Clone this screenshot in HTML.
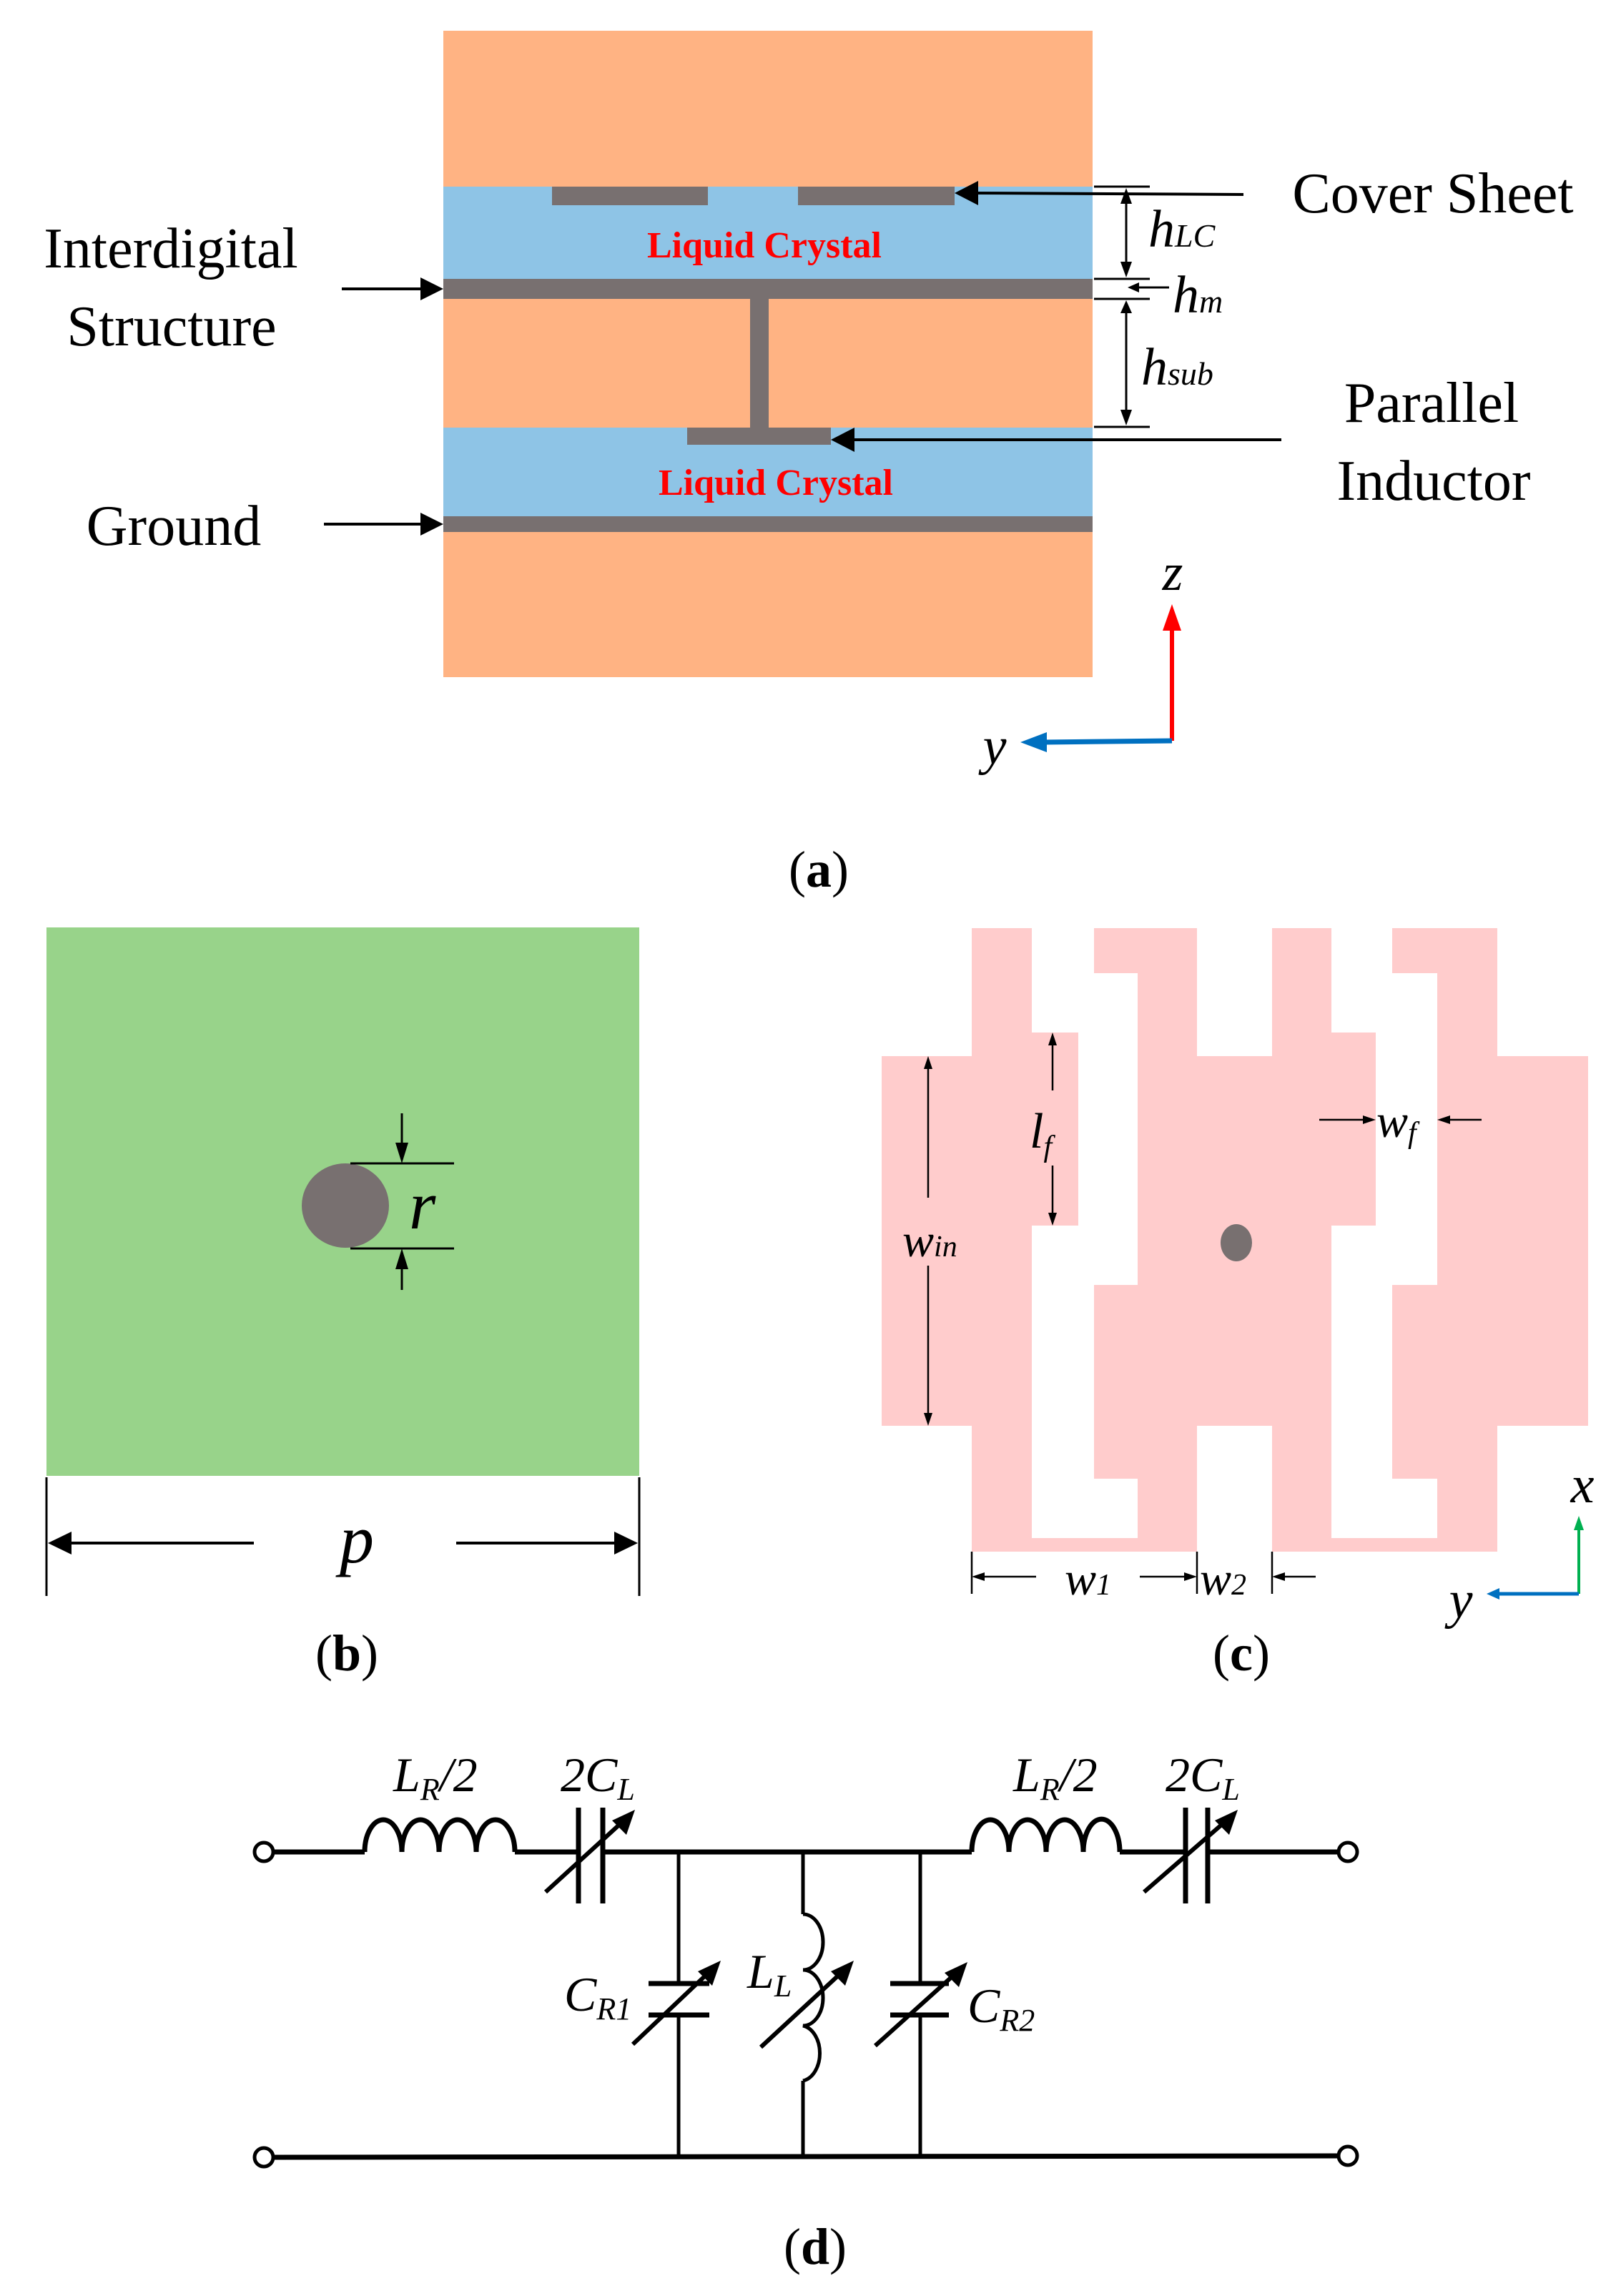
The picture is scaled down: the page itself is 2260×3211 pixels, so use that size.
<!DOCTYPE html>
<html><head><meta charset="utf-8"><style>html,body{margin:0;padding:0;background:#fff}svg{display:block}svg text{font-family:"Liberation Serif","Times New Roman",serif}</style></head>
<body>
<svg xmlns="http://www.w3.org/2000/svg" width="2260" height="3211" viewBox="0 0 2260 3211" style="font-family:'Liberation Serif',serif">
<!-- (a) -->
<rect x="620" y="43" width="908" height="904" fill="#ffb383"/>
<rect x="620" y="261" width="908" height="129" fill="#8ec4e6"/>
<rect x="620" y="598" width="908" height="124" fill="#8ec4e6"/>
<rect x="620" y="390" width="908" height="28" fill="#787070"/>
<rect x="620" y="722" width="908" height="22" fill="#787070"/>
<rect x="772" y="261" width="218" height="26" fill="#787070"/>
<rect x="1116" y="261" width="219" height="26" fill="#787070"/>
<rect x="1049" y="418" width="26" height="182" fill="#787070"/>
<rect x="961" y="598" width="201" height="24" fill="#787070"/>
<text x="1069" y="360" font-size="52" font-weight="bold" fill="#ff0000" text-anchor="middle">Liquid Crystal</text>
<text x="1085" y="692" font-size="52" font-weight="bold" fill="#ff0000" text-anchor="middle">Liquid Crystal</text>
<g font-size="80" fill="#000">
<text x="2004" y="297" text-anchor="middle">Cover Sheet</text>
<text x="239" y="374" text-anchor="middle">Interdigital</text>
<text x="240" y="483" text-anchor="middle">Structure</text>
<text x="243" y="762" text-anchor="middle">Ground</text>
<text x="2002" y="590" text-anchor="middle">Parallel</text>
<text x="2005" y="699" text-anchor="middle">Inductor</text>
</g>
<g stroke="#000" stroke-width="4" fill="none">
<line x1="478" y1="404" x2="590" y2="404"/>
<line x1="453" y1="733" x2="590" y2="733"/>
<line x1="1739" y1="272" x2="1365" y2="270"/>
<line x1="1792" y1="615" x2="1192" y2="615"/>
<line x1="1530" y1="261" x2="1608" y2="261" stroke-width="3"/>
<line x1="1530" y1="390" x2="1608" y2="390" stroke-width="3"/>
<line x1="1530" y1="418" x2="1608" y2="418" stroke-width="3"/>
<line x1="1530" y1="597" x2="1608" y2="597" stroke-width="3"/>
<line x1="1575" y1="270" x2="1575" y2="380" stroke-width="3"/>
<line x1="1575" y1="428" x2="1575" y2="588" stroke-width="3"/>
<line x1="1635" y1="402" x2="1585" y2="402" stroke-width="3"/>
</g>
<g fill="#000">
<polygon points="620,404 588,388 588,420"/>
<polygon points="620,733 588,717 588,749"/>
<polygon points="1335,270 1368,253 1368,287"/>
<polygon points="1162,615 1195,598 1195,632"/>
<polygon points="1575,263 1567,285 1583,285"/>
<polygon points="1575,388 1567,366 1583,366"/>
<polygon points="1575,420 1567,438 1583,438"/>
<polygon points="1575,595 1567,573 1583,573"/>
<polygon points="1577,402 1593,395 1593,409"/>
</g>
<g font-style="italic" font-size="74" fill="#000">
<text x="1606" y="345">h<tspan font-size="46">LC</tspan></text>
<text x="1640" y="437">h<tspan font-size="46">m</tspan></text>
<text x="1596" y="538">h<tspan font-size="46">sub</tspan></text>
<text x="1640" y="825" text-anchor="middle">z</text>
<text x="1391" y="1068" text-anchor="middle">y</text>
</g>
<line x1="1639" y1="1036" x2="1639" y2="880" stroke="#ff0000" stroke-width="6"/>
<polygon points="1639,845 1626,882 1652,882" fill="#ff0000"/>
<line x1="1639" y1="1036" x2="1460" y2="1038" stroke="#0070c0" stroke-width="7"/>
<polygon points="1427,1038 1464,1024 1464,1052" fill="#0070c0"/>
<text x="1145" y="1240" font-size="72" text-anchor="middle">(<tspan font-weight="bold">a</tspan>)</text>

<!-- (b) -->
<rect x="65" y="1297" width="829" height="767" fill="#98d38a"/>
<ellipse cx="483" cy="1686" rx="61" ry="59" fill="#787070"/>
<g stroke="#000" stroke-width="3" fill="none">
<line x1="490" y1="1627" x2="635" y2="1627"/>
<line x1="490" y1="1746" x2="635" y2="1746"/>
<line x1="562" y1="1557" x2="562" y2="1600"/>
<line x1="562" y1="1772" x2="562" y2="1804"/>
<line x1="65" y1="2066" x2="65" y2="2232"/>
<line x1="894" y1="2066" x2="894" y2="2232"/>
<line x1="90" y1="2158" x2="355" y2="2158" stroke-width="4"/>
<line x1="638" y1="2158" x2="870" y2="2158" stroke-width="4"/>
</g>
<g fill="#000">
<polygon points="562,1627 553,1598 571,1598"/>
<polygon points="562,1746 553,1775 571,1775"/>
<polygon points="67,2158 100,2142 100,2174"/>
<polygon points="892,2158 859,2142 859,2174"/>
</g>
<g font-style="italic" fill="#000">
<text x="572" y="1718" font-size="96">r</text>
<text x="475" y="2185" font-size="96">p</text>
</g>
<text x="485" y="2336" font-size="72" text-anchor="middle">(<tspan font-weight="bold">b</tspan>)</text>

<!-- (c) -->
<g fill="#ffcccc">
<rect x="1359" y="1298" width="84" height="872"/>
<rect x="1233" y="1477" width="127" height="517"/>
<rect x="1442" y="1444" width="66" height="270"/>
<rect x="1359" y="2151" width="315" height="19"/>
<rect x="1591" y="1298" width="83" height="872"/>
<rect x="1530" y="1298" width="144" height="63"/>
<rect x="1779" y="1298" width="83" height="872"/>
<rect x="1591" y="1477" width="271" height="517"/>
<rect x="1861" y="1444" width="63" height="270"/>
<rect x="1530" y="1797" width="62" height="271"/>
<rect x="1779" y="2151" width="315" height="19"/>
<rect x="2010" y="1298" width="84" height="872"/>
<rect x="1947" y="1298" width="147" height="63"/>
<rect x="2093" y="1477" width="128" height="517"/>
<rect x="1947" y="1797" width="64" height="271"/>
</g>
<ellipse cx="1729" cy="1738" rx="22" ry="26" fill="#787070"/>
<g stroke="#000" stroke-width="2.5" fill="none">
<line x1="1298" y1="1490" x2="1298" y2="1675"/>
<line x1="1298" y1="1770" x2="1298" y2="1982"/>
<line x1="1472" y1="1455" x2="1472" y2="1525"/>
<line x1="1472" y1="1630" x2="1472" y2="1703"/>
<line x1="1845" y1="1566" x2="1912" y2="1566"/>
<line x1="2072" y1="1566" x2="2022" y2="1566"/>
<line x1="1359" y1="2170" x2="1359" y2="2229"/>
<line x1="1674" y1="2170" x2="1674" y2="2229"/>
<line x1="1779" y1="2170" x2="1779" y2="2229"/>
<line x1="1449" y1="2205" x2="1371" y2="2205"/>
<line x1="1594" y1="2205" x2="1662" y2="2205"/>
<line x1="1840" y1="2205" x2="1791" y2="2205"/>
</g>
<g fill="#000">
<polygon points="1298,1477 1292,1495 1304,1495"/>
<polygon points="1298,1994 1292,1976 1304,1976"/>
<polygon points="1472,1444 1466,1462 1478,1462"/>
<polygon points="1472,1714 1466,1696 1478,1696"/>
<polygon points="1924,1566 1906,1560 1906,1572"/>
<polygon points="2010,1566 2028,1560 2028,1572"/>
<polygon points="1359,2205 1377,2199 1377,2211"/>
<polygon points="1674,2205 1656,2199 1656,2211"/>
<polygon points="1779,2205 1797,2199 1797,2211"/>
</g>
<g font-style="italic" fill="#000">
<text x="1262" y="1757" font-size="66">w<tspan font-size="42">in</tspan></text>
<text x="1440" y="1605" font-size="70">l<tspan font-size="42" dy="12">f</tspan></text>
<text x="1925" y="1590" font-size="66">w<tspan font-size="42" dy="8">f</tspan></text>
<text x="1489" y="2230" font-size="66">w<tspan font-size="42">1</tspan></text>
<text x="1678" y="2230" font-size="66">w<tspan font-size="42">2</tspan></text>
<text x="2213" y="2101" font-size="74" text-anchor="middle">x</text>
<text x="2043" y="2262" font-size="74" text-anchor="middle">y</text>
</g>
<line x1="2208" y1="2229" x2="2208" y2="2135" stroke="#00b050" stroke-width="4"/>
<polygon points="2208,2120 2201,2140 2215,2140" fill="#00b050"/>
<line x1="2208" y1="2229" x2="2092" y2="2229" stroke="#0070c0" stroke-width="5"/>
<polygon points="2079,2229 2097,2221 2097,2237" fill="#0070c0"/>
<text x="1736" y="2336" font-size="72" text-anchor="middle">(<tspan font-weight="bold">c</tspan>)</text>

<!-- (d) -->
<g stroke="#000" stroke-width="7" fill="none" stroke-linecap="butt">
<line x1="384" y1="2590" x2="510" y2="2590"/>
<path d="M510,2590 a26,45 0 0 1 52,0 a26,45 0 0 1 52,0 a26,45 0 0 1 52,0 a27,45 0 0 1 54,0"/>
<line x1="720" y1="2590" x2="809" y2="2590"/>
<line x1="809" y1="2528" x2="809" y2="2662"/>
<line x1="843" y1="2528" x2="843" y2="2662"/>
<line x1="843" y1="2590" x2="1359" y2="2590"/>
<path d="M1359,2590 a26,45 0 0 1 52,0 a26,45 0 0 1 52,0 a26,45 0 0 1 52,0 a25,45 0 0 1 51,0"/>
<line x1="1566" y1="2590" x2="1658" y2="2590"/>
<line x1="1658" y1="2528" x2="1658" y2="2662"/>
<line x1="1689" y1="2528" x2="1689" y2="2662"/>
<line x1="1689" y1="2590" x2="1870" y2="2590"/>
<line x1="384" y1="3017" x2="1870" y2="3015"/>
<line x1="949" y1="2590" x2="949" y2="2774" stroke-width="5"/>
<line x1="949" y1="2818" x2="949" y2="3017" stroke-width="5"/>
<line x1="907" y1="2774" x2="992" y2="2774"/>
<line x1="907" y1="2818" x2="992" y2="2818"/>
<line x1="1123" y1="2590" x2="1123" y2="2677" stroke-width="5"/>
<path d="M1123,2677 a28,39 0 0 1 0,78 a28,39 0 0 1 0,78 a28,39 0 0 1 0,77" stroke-width="5"/>
<line x1="1123" y1="2910" x2="1123" y2="3017" stroke-width="5"/>
<line x1="1287" y1="2590" x2="1287" y2="2774" stroke-width="5"/>
<line x1="1287" y1="2818" x2="1287" y2="3017" stroke-width="5"/>
<line x1="1245" y1="2774" x2="1327" y2="2774"/>
<line x1="1245" y1="2818" x2="1327" y2="2818"/>
<line x1="763" y1="2646" x2="878" y2="2541" stroke-width="6"/>
<line x1="1600" y1="2646" x2="1721" y2="2541" stroke-width="6"/>
<line x1="885" y1="2859" x2="998" y2="2752" stroke-width="6"/>
<line x1="1064" y1="2863" x2="1184" y2="2752" stroke-width="6"/>
<line x1="1224" y1="2861" x2="1343" y2="2754" stroke-width="6"/>
</g>
<g fill="#000">
<polygon points="888,2531 856,2546 876,2566"/>
<polygon points="1731,2531 1699,2546 1719,2566"/>
<polygon points="1008,2742 976,2757 996,2777"/>
<polygon points="1194,2742 1162,2757 1182,2777"/>
<polygon points="1353,2744 1321,2759 1341,2779"/>
</g>
<g fill="#fff" stroke="#000" stroke-width="5">
<circle cx="369" cy="2590" r="13"/>
<circle cx="1885" cy="2590" r="13"/>
<circle cx="369" cy="3017" r="13"/>
<circle cx="1885" cy="3015" r="13"/>
</g>
<g font-style="italic" font-size="68" fill="#000">
<text x="550" y="2505">L<tspan font-size="44" dy="12">R</tspan><tspan dy="-12">/2</tspan></text>
<text x="784" y="2505">2C<tspan font-size="44" dy="12">L</tspan></text>
<text x="1417" y="2505">L<tspan font-size="44" dy="12">R</tspan><tspan dy="-12">/2</tspan></text>
<text x="1630" y="2505">2C<tspan font-size="44" dy="12">L</tspan></text>
<text x="789" y="2812">C<tspan font-size="44" dy="12">R1</tspan></text>
<text x="1045" y="2780">L<tspan font-size="44" dy="12">L</tspan></text>
<text x="1353" y="2828">C<tspan font-size="44" dy="12">R2</tspan></text>
</g>
<text x="1140" y="3166" font-size="72" text-anchor="middle">(<tspan font-weight="bold">d</tspan>)</text>
</svg>
</body></html>
